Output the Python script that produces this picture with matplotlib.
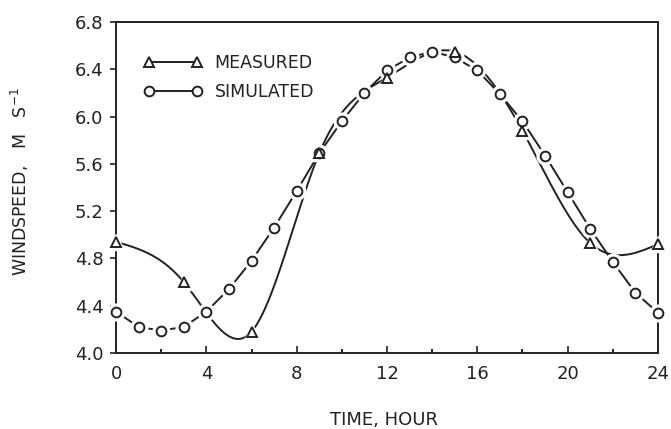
import numpy as np
import matplotlib
matplotlib.use('Agg')
import matplotlib.pyplot as plt
from matplotlib.lines import Line2D

plt.rcParams['font.family'] = ['DejaVu Sans']
plt.rcParams['mathtext.default'] = 'regular'

hours_meas = [0, 3, 6, 9, 12, 15, 18, 21, 24]
wind_meas = [4.94, 4.60, 4.18, 5.69, 6.33, 6.55, 5.88, 4.93, 4.92]
hours_sim = list(range(25))
wind_sim = [4.35, 4.22, 4.19, 4.22, 4.35, 4.54, 4.78, 5.06, 5.37, 5.69,
            5.96, 6.20, 6.39, 6.50, 6.55, 6.50, 6.39, 6.19, 5.96, 5.67,
            5.36, 5.05, 4.77, 4.51, 4.34]
xticks = [0, 4, 8, 12, 16, 20, 24]
xminor = [2, 6, 10, 14, 18, 22]
yticks = [4.0, 4.4, 4.8, 5.2, 5.6, 6.0, 6.4, 6.8]


def natural_spline(x, y, xs):
    x = np.asarray(x, float); y = np.asarray(y, float)
    n = len(x)
    h = np.diff(x)
    A = np.zeros((n, n)); b = np.zeros(n)
    A[0, 0] = 1; A[-1, -1] = 1
    for i in range(1, n - 1):
        A[i, i - 1] = h[i - 1]
        A[i, i] = 2 * (h[i - 1] + h[i])
        A[i, i + 1] = h[i]
        b[i] = 6 * ((y[i + 1] - y[i]) / h[i] - (y[i] - y[i - 1]) / h[i - 1])
    M = np.linalg.solve(A, b)
    out = np.empty_like(xs)
    for k, xv in enumerate(xs):
        i = min(np.searchsorted(x, xv, side='right') - 1, n - 2)
        i = max(i, 0)
        t1 = x[i + 1] - xv; t0 = xv - x[i]
        out[k] = (M[i] * t1 ** 3 / (6 * h[i]) + M[i + 1] * t0 ** 3 / (6 * h[i])
                  + (y[i] / h[i] - M[i] * h[i] / 6) * t1
                  + (y[i + 1] / h[i] - M[i + 1] * h[i] / 6) * t0)
    return out


col = '#222222'
fig = plt.figure(figsize=(6.71, 4.29), dpi=100)
ax = fig.add_axes([0.1729, 0.1772, 0.8077, 0.7715])

xs = np.linspace(0, 24, 400)
ax.plot(xs, natural_spline(hours_meas, wind_meas, xs), color=col, lw=1.4, zorder=2)
ax.plot(hours_sim, wind_sim, color=col, lw=1.4, zorder=2)

# white halos to produce the gaps around markers
ax.plot(hours_sim, wind_sim, ls='none', marker='o', ms=12, mfc='white', mec='white', zorder=3, clip_on=False)
ax.plot(hours_meas, wind_meas, ls='none', marker='^', ms=11, mfc='white', mec='white', zorder=3, clip_on=False)
ax.plot(hours_sim, wind_sim, ls='none', marker='o', ms=7, mfc='white', mec=col, mew=1.4, zorder=4, clip_on=False)
ax.plot(hours_meas, wind_meas, ls='none', marker='^', ms=6.5, mfc='white', mec=col, mew=1.4, zorder=5, clip_on=False)

ax.set_xlim(0, 24)
ax.set_ylim(4.0, 6.8)
ax.set_xticks(xticks)
ax.set_xticks(xminor, minor=True)
ax.set_yticks(yticks)
ax.set_yticklabels([f'{v:.1f}' for v in yticks])
ax.tick_params(axis='x', direction='in', length=5, width=1.2, labelsize=13, pad=9, colors=col)
ax.tick_params(axis='x', which='minor', direction='in', length=3, width=1.2)
ax.tick_params(axis='y', direction='out', length=4, width=1.2, labelsize=13, pad=5, colors=col)
for s in ax.spines.values():
    s.set_linewidth(1.4)
    s.set_color(col)

ax.set_xlabel('TIME, HOUR', fontsize=13, color=col, va='center', ha='center')
ax.xaxis.set_label_coords(0.495, -0.202)
ax.set_ylabel('WINDSPEED,   M   S$^{-1}$', fontsize=12.5, color=col, va='center', ha='center')
ax.yaxis.set_label_coords(-0.177, 0.518)

h1 = Line2D([], [], color=col, lw=1.4, marker='^', ms=6.5, mfc='white', mec=col, mew=1.4)
h2 = Line2D([], [], color=col, lw=1.4, marker='o', ms=7, mfc='white', mec=col, mew=1.4)
ax.legend([h1, h2], ['MEASURED', 'SIMULATED'], loc='upper left', bbox_to_anchor=(0.022, 0.95),
          frameon=False, fontsize=12.5, numpoints=2, handlelength=3.4, handletextpad=0.7,
          labelspacing=0.65, labelcolor=col)

fig.savefig('out.png', dpi=100)
